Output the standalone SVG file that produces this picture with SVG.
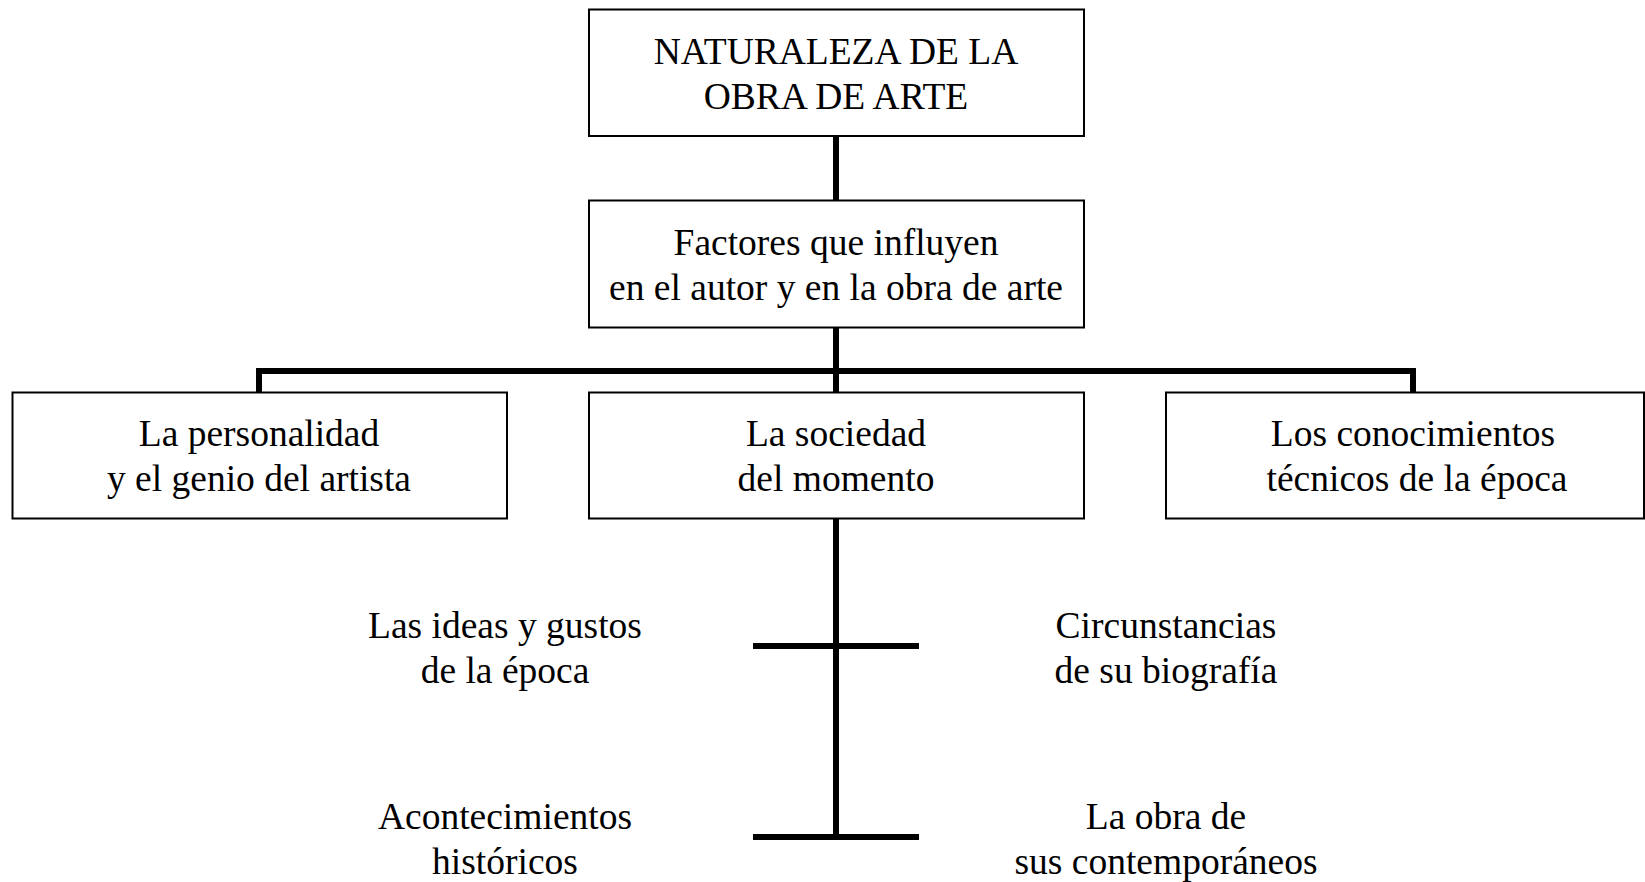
<svg xmlns="http://www.w3.org/2000/svg" width="1645" height="882" viewBox="0 0 1645 882">
<style>
.box{fill:#fff;stroke:#000;stroke-width:2}
.c{stroke:#000;stroke-width:6;fill:none}
text{font-family:"Liberation Serif","Times New Roman",serif;font-size:37.5px;fill:#000;text-anchor:middle}
</style>
<rect width="1645" height="882" fill="#fff"/>
<g id="connectors">
<line class="c" x1="836" y1="136" x2="836" y2="200"/>
<line class="c" x1="836" y1="327" x2="836" y2="392"/>
<polyline class="c" points="259,392 259,371 1413,371 1413,392"/>
<line class="c" x1="836" y1="518" x2="836" y2="837"/>
<line class="c" x1="753" y1="646" x2="919" y2="646"/>
<line class="c" x1="753" y1="837" x2="919" y2="837"/>
</g>
<g id="n-naturaleza">
<rect class="box" x="589" y="9.5" width="495" height="126.5"/>
<text x="836" y="63.5">NATURALEZA DE LA</text>
<text x="836" y="108.5">OBRA DE ARTE</text>
</g>
<g id="n-factores">
<rect class="box" x="589" y="200.5" width="495" height="127"/>
<text x="836" y="254.5">Factores que influyen</text>
<text x="836" y="299.5">en el autor y en la obra de arte</text>
</g>
<g id="n-personalidad">
<rect class="box" x="12.5" y="392.5" width="494.5" height="126"/>
<text x="259" y="446">La personalidad</text>
<text x="259" y="491">y el genio del artista</text>
</g>
<g id="n-sociedad">
<rect class="box" x="589" y="392.5" width="495" height="126"/>
<text x="836" y="446">La sociedad</text>
<text x="836" y="491">del momento</text>
</g>
<g id="n-conocimientos">
<rect class="box" x="1166" y="392.5" width="478" height="126"/>
<text x="1413" y="446">Los conocimientos</text>
<text x="1417" y="491">técnicos de la época</text>
</g>
<g id="n-ideas">
<text x="505" y="638">Las ideas y gustos</text>
<text x="505" y="683">de la época</text>
</g>
<g id="n-circunstancias">
<text x="1166" y="638">Circunstancias</text>
<text x="1166" y="683">de su biografía</text>
</g>
<g id="n-acontecimientos">
<text x="505" y="829">Acontecimientos</text>
<text x="505" y="874">históricos</text>
</g>
<g id="n-obra">
<text x="1166" y="829">La obra de</text>
<text x="1166" y="874">sus contemporáneos</text>
</g>
</svg>
